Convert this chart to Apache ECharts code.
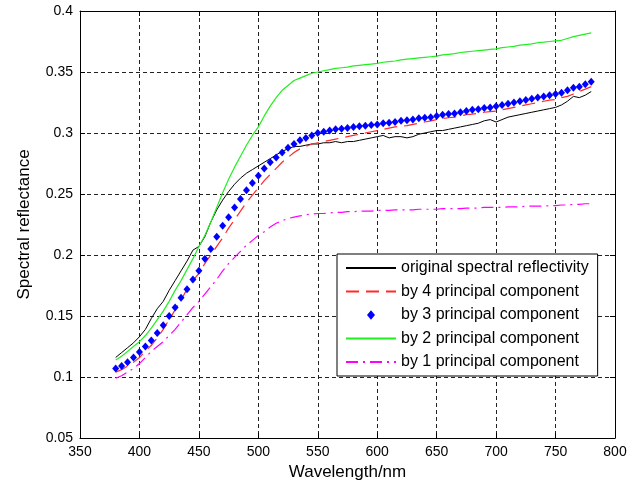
<!DOCTYPE html>
<html>
<head>
<meta charset="utf-8">
<script src="https://cdn.jsdelivr.net/npm/echarts@6/dist/echarts.min.js"></script>
<style>
html,body{margin:0;padding:0;background:#fff;}
#chart{width:643px;height:487px;}
</style>
</head>
<body>
<div id="chart"></div>
<script>
var wavelengths = [380,385,390,395,400,405,410,415,420,425,430,435,440,445,450,455,460,465,470,475,480,485,490,495,500,505,510,515,520,525,530,535,540,545,550,555,560,565,570,575,580,585,590,595,600,605,610,615,620,625,630,635,640,645,650,655,660,665,670,675,680,685,690,695,700,705,710,715,720,725,730,735,740,745,750,755,760,765,770,775,780];

var original = [0.116,0.120,0.124,0.128,0.133,0.139,0.148,0.156,0.162,0.171,0.179,0.187,0.195,0.204,0.207,0.215,0.227,0.237,0.245,0.252,0.258,0.263,0.267,0.270,0.273,0.276,0.279,0.282,0.285,0.287,0.289,0.289,0.290,0.291,0.291,0.292,0.292,0.293,0.292,0.293,0.293,0.294,0.295,0.296,0.297,0.298,0.296,0.297,0.297,0.296,0.297,0.299,0.300,0.301,0.302,0.302,0.303,0.304,0.305,0.306,0.307,0.308,0.310,0.311,0.309,0.311,0.313,0.314,0.315,0.316,0.317,0.318,0.319,0.320,0.321,0.323,0.326,0.330,0.329,0.331,0.334];

var pc4 = [0.104,0.106,0.109,0.112,0.116,0.121,0.126,0.132,0.139,0.147,0.155,0.163,0.172,0.179,0.185,0.193,0.200,0.207,0.214,0.222,0.229,0.236,0.243,0.249,0.255,0.261,0.266,0.271,0.276,0.280,0.284,0.287,0.289,0.291,0.292,0.293,0.294,0.295,0.296,0.297,0.298,0.299,0.300,0.301,0.302,0.303,0.304,0.305,0.3055,0.306,0.307,0.308,0.309,0.310,0.311,0.312,0.3125,0.313,0.314,0.315,0.3155,0.316,0.317,0.3175,0.318,0.319,0.320,0.321,0.322,0.323,0.324,0.325,0.326,0.327,0.3275,0.329,0.330,0.332,0.334,0.336,0.338];

var pc3 = [0.107,0.109,0.112,0.116,0.1205,0.125,0.130,0.136,0.1425,0.150,0.157,0.165,0.172,0.180,0.187,0.197,0.205,0.215,0.224,0.231,0.239,0.246,0.253,0.259,0.265,0.271,0.276,0.280,0.284,0.288,0.291,0.294,0.296,0.298,0.300,0.301,0.302,0.303,0.3035,0.304,0.305,0.3055,0.306,0.3065,0.307,0.308,0.3085,0.309,0.310,0.3105,0.311,0.312,0.3125,0.313,0.314,0.315,0.3155,0.316,0.317,0.318,0.319,0.3195,0.3205,0.321,0.322,0.323,0.324,0.325,0.326,0.327,0.328,0.329,0.330,0.331,0.332,0.333,0.335,0.337,0.338,0.340,0.342];

var pc2 = [0.114,0.117,0.121,0.125,0.129,0.134,0.140,0.147,0.154,0.162,0.171,0.179,0.188,0.197,0.207,0.216,0.227,0.239,0.251,0.262,0.272,0.281,0.290,0.298,0.305,0.314,0.322,0.329,0.335,0.339,0.343,0.345,0.347,0.349,0.350,0.351,0.352,0.353,0.3535,0.354,0.355,0.3555,0.356,0.3565,0.357,0.358,0.3585,0.359,0.360,0.3605,0.361,0.3615,0.362,0.3625,0.363,0.364,0.3645,0.365,0.366,0.3665,0.367,0.3675,0.368,0.3685,0.369,0.370,0.3705,0.371,0.372,0.3725,0.373,0.374,0.3745,0.375,0.3755,0.376,0.3775,0.379,0.380,0.381,0.382];

var pc1 = [0.099,0.101,0.104,0.107,0.111,0.116,0.121,0.125,0.129,0.134,0.139,0.145,0.151,0.157,0.162,0.168,0.174,0.180,0.187,0.193,0.198,0.203,0.208,0.212,0.216,0.219,0.223,0.226,0.228,0.230,0.231,0.232,0.233,0.2335,0.234,0.234,0.2345,0.235,0.235,0.2355,0.2355,0.236,0.236,0.236,0.2365,0.2365,0.2365,0.237,0.237,0.237,0.237,0.2375,0.2375,0.2375,0.2375,0.238,0.238,0.238,0.238,0.2385,0.2385,0.2385,0.239,0.239,0.239,0.239,0.2395,0.2395,0.2395,0.240,0.240,0.240,0.240,0.2405,0.2405,0.241,0.241,0.2415,0.2415,0.242,0.242];

var seriesNames = ['original spectral reflectivity','by 4 principal component','by 3 principal component','by 2 principal component','by 1 principal component'];
var xTicks = [350,400,450,500,550,600,650,700,750,800];
var yTicks = [0.05,0.1,0.15,0.2,0.25,0.3,0.35,0.4];

function pairs(arr){ return wavelengths.map(function(w,i){ return [w, arr[i]]; }); }

var FONT = 'Liberation Sans, Arial, sans-serif';
var gridLine = {show:true, lineStyle:{color:'#222', type:[4,3], width:1}};

// small diamond icon inside a larger invisible bounding box
var smallDiamond = 'path://M0,0L0.01,0.01M20,20L19.99,19.99M10,4L15,10L10,16L5,10Z';

var legendData = seriesNames.map(function(n, i){
  return i === 2 ? {name:n, icon:smallDiamond} : {name:n, itemStyle:{opacity:0}};
});

var chart = echarts.init(document.getElementById('chart'), null, {renderer:'canvas'});
chart.setOption({
  backgroundColor:'#fff',
  animation:false,
  grid:{left:80, right:28, top:11, bottom:49},
  legend:{
    orient:'vertical', left:337, top:254,
    backgroundColor:'#fff', borderColor:'#000', borderWidth:1, borderRadius:0,
    padding:[6,9,6,8], itemWidth:50, itemHeight:16, itemGap:7.5,
    textStyle:{fontFamily:FONT, fontSize:16, color:'#000'},
    data: legendData
  },
  xAxis:[{
    type:'value', min:xTicks[0], max:xTicks[xTicks.length-1], interval:50,
    name:'Wavelength/nm', nameLocation:'middle', nameGap:25,
    nameTextStyle:{fontFamily:FONT, fontSize:17, color:'#000'},
    axisLine:{show:true, onZero:false, lineStyle:{color:'#000', width:1}},
    axisTick:{show:true, inside:true, length:5, lineStyle:{color:'#000'}},
    axisLabel:{fontFamily:FONT, fontSize:14, color:'#000', margin:7},
    splitLine:gridLine
  },{
    type:'value', position:'top', min:xTicks[0], max:xTicks[xTicks.length-1], interval:50,
    axisLine:{show:true, onZero:false, lineStyle:{color:'#000', width:1}},
    axisTick:{show:true, inside:true, length:5, lineStyle:{color:'#000'}},
    axisLabel:{show:false}, splitLine:{show:false}
  }],
  yAxis:[{
    type:'value', min:yTicks[0], max:yTicks[yTicks.length-1], interval:0.05,
    name:'Spectral reflectance', nameLocation:'middle', nameGap:47, nameRotate:90,
    nameTextStyle:{fontFamily:FONT, fontSize:17, color:'#000'},
    axisLine:{show:true, onZero:false, lineStyle:{color:'#000', width:1}},
    axisTick:{show:true, inside:true, length:5, lineStyle:{color:'#000'}},
    axisLabel:{fontFamily:FONT, fontSize:14, color:'#000', margin:7,
      formatter:function(v){ return String(Math.round(v*100)/100); }},
    splitLine:gridLine
  },{
    type:'value', position:'right', min:yTicks[0], max:yTicks[yTicks.length-1], interval:0.05,
    axisLine:{show:true, onZero:false, lineStyle:{color:'#000', width:1}},
    axisTick:{show:true, inside:true, length:5, lineStyle:{color:'#000'}},
    axisLabel:{show:false}, splitLine:{show:false}
  }],
  series:[
    {name:seriesNames[0], type:'line', data:pairs(original), symbol:'none',
     lineStyle:{color:'#000', width:1}, itemStyle:{color:'#000'}},
    {name:seriesNames[1], type:'line', data:pairs(pc4), symbol:'none',
     lineStyle:{color:'#ff2a2a', width:1.2, type:[13,7]}, itemStyle:{color:'#ff2a2a'}},
    {name:seriesNames[2], type:'line', data:pairs(pc3), symbol:'diamond', symbolSize:[7,8], showSymbol:true,
     lineStyle:{width:0, opacity:0}, itemStyle:{color:'#0000ff'}},
    {name:seriesNames[3], type:'line', data:pairs(pc2), symbol:'none',
     lineStyle:{color:'#22ee22', width:1.2}, itemStyle:{color:'#22ee22'}},
    {name:seriesNames[4], type:'line', data:pairs(pc1), symbol:'none',
     lineStyle:{color:'#ff00ff', width:1.2, type:[12,5,2,5]}, itemStyle:{color:'#ff00ff'}}
  ]
});
</script>
</body>
</html>
